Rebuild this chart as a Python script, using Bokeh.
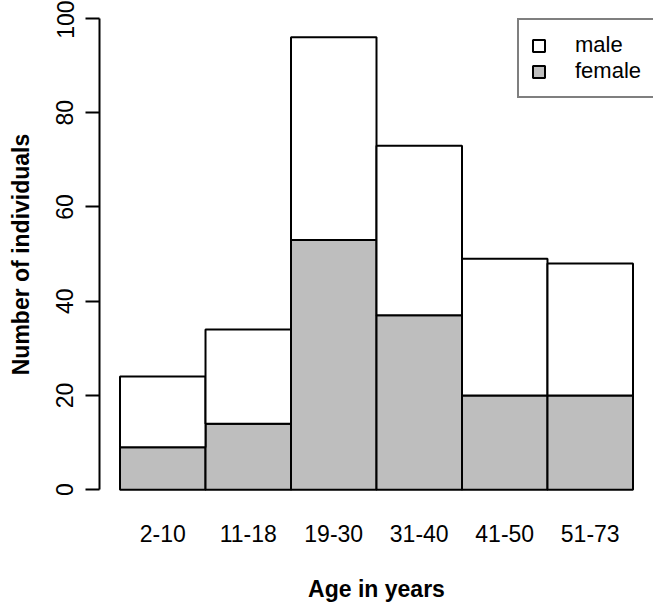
from bokeh.plotting import figure
from bokeh.models import (ColumnDataSource, Range1d, FixedTicker, Legend, LegendItem)
from bokeh.embed import file_html
from bokeh.resources import INLINE

categories = ["2-10", "11-18", "19-30", "31-40", "41-50", "51-73"]
female = [9, 14, 53, 37, 20, 20]
male = [15, 20, 43, 36, 29, 28]
y_ticks = [0, 20, 40, 60, 80, 100]

xpos = [i + 0.5 for i in range(len(categories))]
total = [f + m for f, m in zip(female, male)]
src = ColumnDataSource(dict(x=xpos, female=female, total=total))

FONT = "Liberation Sans"

p = figure(width=660, height=604, output_backend="svg", toolbar_location=None,
           x_range=Range1d(-0.24, 6.24), y_range=Range1d(-4, 103.8),
           min_border_left=99, min_border_right=7, min_border_top=0,
           min_border_bottom=96)
p.xgrid.visible = False
p.ygrid.visible = False
p.outline_line_color = None
p.background_fill_color = "white"

rf = p.vbar(x="x", width=1, bottom=0, top="female", source=src,
            fill_color="#bebebe", line_color="black", line_width=2)
rm = p.vbar(x="x", width=1, bottom="female", top="total", source=src,
            fill_color="white", line_color="black", line_width=2)

# y axis
ya = p.yaxis[0]
ya.ticker = FixedTicker(ticks=y_ticks)
ya.bounds = (y_ticks[0], y_ticks[-1])
ya.axis_line_width = 2
ya.major_tick_line_width = 2
ya.major_tick_out = 14
ya.major_tick_in = 0
ya.minor_tick_line_color = None
ya.major_label_orientation = "vertical"
ya.major_label_text_font = FONT
ya.major_label_text_font_size = "23px"
ya.major_label_text_color = "black"
ya.major_label_standoff = 12
ya.axis_label = "Number of individuals"
ya.axis_label_text_font = FONT
ya.axis_label_text_font_size = "23px"
ya.axis_label_text_font_style = "bold"
ya.axis_label_text_color = "black"
ya.axis_label_standoff = 20

# x axis
xa = p.xaxis[0]
xa.ticker = FixedTicker(ticks=xpos)
xa.major_label_overrides = {x: c for x, c in zip(xpos, categories)}
xa.axis_line_color = None
xa.major_tick_line_color = None
xa.major_tick_out = 0
xa.major_tick_in = 0
xa.minor_tick_line_color = None
xa.major_label_text_font = FONT
xa.major_label_text_font_size = "23px"
xa.major_label_text_color = "black"
xa.major_label_standoff = 16
xa.axis_label = "Age in years"
xa.axis_label_text_font = FONT
xa.axis_label_text_font_size = "23px"
xa.axis_label_text_font_style = "bold"
xa.axis_label_text_color = "black"
xa.axis_label_standoff = 31

legend = Legend(items=[LegendItem(label="male", renderers=[rm]),
                       LegendItem(label="female", renderers=[rf])],
                location=(418, 410), margin=0,
                label_text_font=FONT, label_text_font_size="22px",
                label_text_color="black",
                glyph_width=15, glyph_height=15, label_standoff=29,
                label_height=24, spacing=0, padding=12,
                border_line_color="black", border_line_width=2,
                background_fill_alpha=1.0)
p.add_layout(legend, "center")

open("out.html", "w").write(file_html(p, INLINE))
